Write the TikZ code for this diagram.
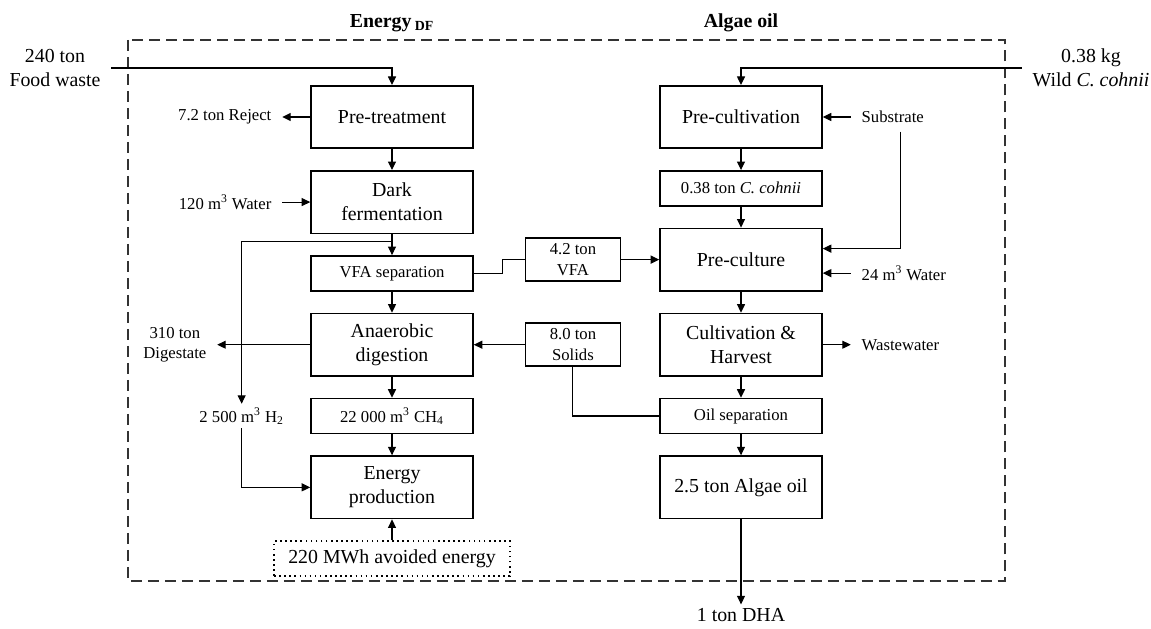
\documentclass[tikz,border=0pt]{standalone}
\usepackage{fontspec}
\setmainfont{Liberation Serif}
\usetikzlibrary{positioning, arrows.meta}

\begin{document}
\begin{tikzpicture}[
        x=0.02cm, y=-0.02cm,
        node distance=0.42cm,
        box/.style={draw, line width=0.9pt, align=center, font=\fontsize{11.3}{13.5}\selectfont, minimum width=3.24cm, minimum height=1.25cm, inner sep=1pt},
        thinbox/.style={box, font=\fontsize{9.5}{11}\selectfont, minimum height=0.7cm},
        sidebox/.style={box, font=\fontsize{9.5}{12}\selectfont, minimum width=1.9cm, minimum height=0.86cm},
        lbl/.style={align=center, inner xsep=6pt, inner ysep=2pt, font=\fontsize{9.5}{11}\selectfont},
        biglbl/.style={lbl, font=\fontsize{11.3}{13.5}\selectfont},
        title/.style={font=\bfseries\fontsize{11.3}{13.5}\selectfont},
        arrow/.style={-{Triangle[length=1.7mm, width=1.6mm]}, line width=0.6pt},
        link/.style={line width=0.6pt},
        frame/.style={draw=black!80, line width=0.8pt, dash pattern=on 0.22cm off 0.12cm}
    ]
        \useasboundingbox (0,0) rectangle (1151,628);
        \draw[frame] (128,40) rectangle (1005,581);

        \node[title] (t1) at (392,23) {Energy\,\textsubscript{DF}};
        \node[title] (t2) at (741,23) {Algae oil};

        \node[box] (pt) at (392,117) {Pre-treatment};
        \node[box, below=of pt] (df) {Dark\\fermentation};
        \node[thinbox, below=of df] (vfa) {VFA separation};
        \node[box, below=of vfa] (ad) {Anaerobic\\digestion};
        \node[thinbox, below=of ad] (ch4) {22 000 m\textsuperscript{3} CH\textsubscript{4}};
        \node[box, below=of ch4] (ep) {Energy\\production};
        \node[box, dotted, minimum width=4.72cm, minimum height=0.7cm, below=of ep] (avoid) {220 MWh avoided energy};

        \node[box] (pcv) at (741,117) {Pre-cultivation};
        \node[thinbox, below=of pcv] (cc) {0.38 ton \textit{C. cohnii}};
        \node[box, below=of cc] (pcu) {Pre-culture};
        \node[box, below=of pcu] (cult) {Cultivation \&\\Harvest};
        \node[thinbox, below=of cult] (osep) {Oil separation};
        \node[box, below=of osep] (oil) {2.5 ton Algae oil};

        \node[sidebox, left=0.76cm of pcu] (vfab) {4.2 ton\\VFA};
        \node[sidebox, left=0.76cm of cult] (sol) {8.0 ton\\Solids};

        \node[biglbl] (fw) at (55,68) {240 ton\\Food waste};
        \node[biglbl] (wild) at (1091,68) {0.38 kg\\Wild \textit{C. cohnii}};
        \node[biglbl, below=1.7cm of oil] (dha) {1 ton DHA};
        \node[lbl, left=0.56cm of pt] (reject) {7.2 ton Reject};
        \node[lbl, left=0.56cm of df] (water1) {120 m\textsuperscript{3} Water};
        \node[lbl, left=1.86cm of ad] (dig) {310 ton\\Digestate};
        \node[lbl, left=0.31cm of ch4] (h2) {2 500 m\textsuperscript{3} H\textsubscript{2}};
        \node[lbl, right=0.56cm of pcv] (sub) {Substrate};
        \node[lbl, right=0.56cm of pcu, yshift=-0.27cm] (water2) {24 m\textsuperscript{3} Water};
        \node[lbl, right=0.56cm of cult] (ww) {Wastewater};

        \draw[arrow] (fw) -| (pt);
        \draw[arrow] (pt) -- (reject);
        \draw[arrow] (pt) -- (df);
        \draw[arrow] (water1) -- (df);
        \draw[arrow] (df) -- (vfa);
        \draw[arrow] ([yshift=-0.14cm]df.south) -| (h2.north);
        \draw[link] (vfa.east) -- ++(0.58cm,0) |- (vfab.west);
        \draw[arrow] (vfab) -- (pcu);
        \draw[arrow] (vfa) -- (ad);
        \draw[arrow] (ad) -- (dig);
        \draw[arrow] (sol) -- (ad);
        \draw[arrow] (ad) -- (ch4);
        \draw[arrow] (ch4) -- (ep);
        \draw[arrow] (h2.south) |- (ep.west);
        \draw[arrow] (avoid) -- (ep);

        \draw[arrow] (wild) -| (pcv);
        \draw[arrow] (sub) -- (pcv);
        \draw[arrow] (pcv) -- (cc);
        \draw[arrow] ([xshift=0.16cm, yshift=-0.1cm]sub.south) |- ([yshift=0.22cm]pcu.east);
        \draw[arrow] (cc) -- (pcu);
        \draw[arrow] (water2) -- (water2 -| pcu.east);
        \draw[arrow] (pcu) -- (cult);
        \draw[arrow] (cult) -- (ww);
        \draw[arrow] (cult) -- (osep);
        \draw[link] (sol) |- (osep);
        \draw[arrow] (osep) -- (oil);
        \draw[arrow] (oil) -- (dha);
    \end{tikzpicture}
\end{document}
